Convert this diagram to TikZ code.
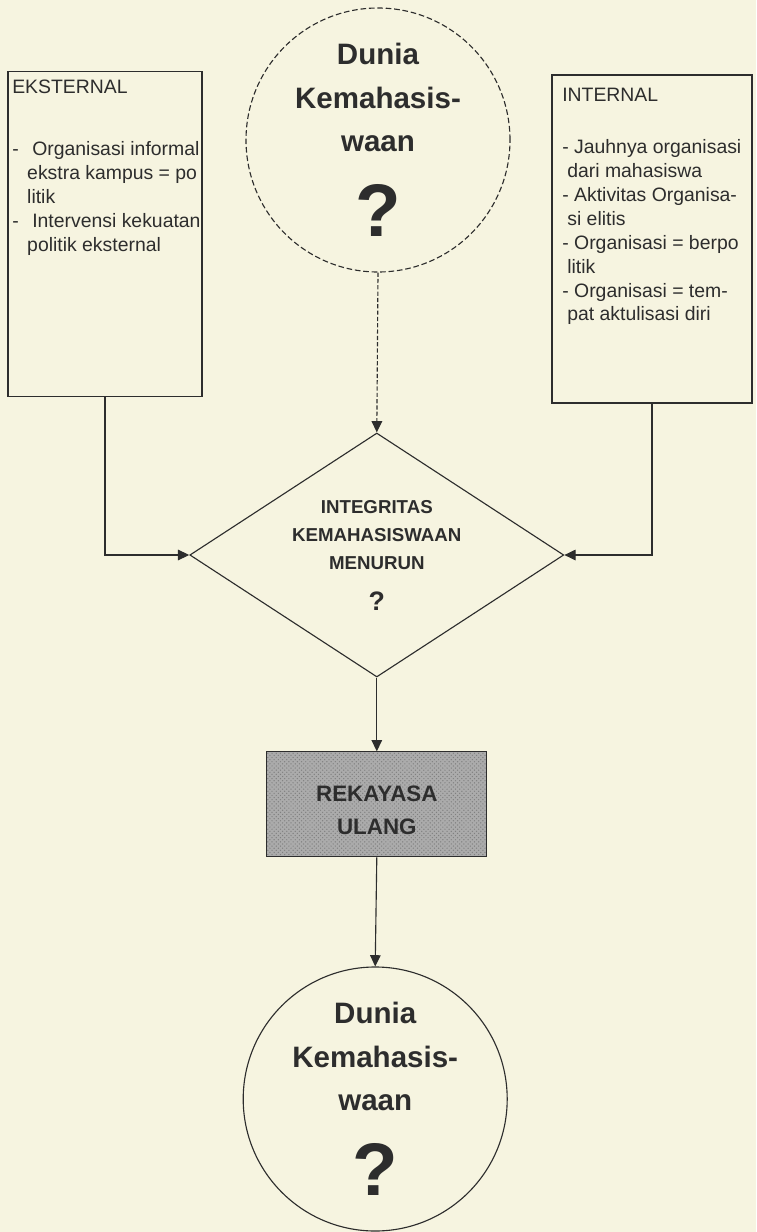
\documentclass[tikz,border=0pt]{standalone}
\usepackage{fontspec}
\setmainfont{Liberation Sans}
\usetikzlibrary{shapes.geometric,arrows.meta,patterns}
\definecolor{paper}{RGB}{246,244,224}
\definecolor{ink}{RGB}{45,45,45}
\tikzset{
  line/.style={draw=ink,line width=0.8pt},
  arr/.style={line,-{Triangle[length=8pt,width=7.5pt]}},
  listbox/.style={line,rectangle,inner sep=0pt},
  listtext/.style={anchor=north west,align=left,inner sep=0pt,text=ink,
    font=\fontsize{13.8}{17}\selectfont},
  world/.style={line,circle,minimum size=6.6cm,inner sep=0pt,align=center,text=ink,
    font=\fontsize{21}{31}\selectfont\bfseries}
}
\begin{document}
\begin{tikzpicture}
\useasboundingbox[fill=paper] (0,0) rectangle (18.9,-30.8);
% causes
\node[listbox,minimum width=4.85cm,minimum height=8.125cm] (ext) at (2.625,-5.84) {};
\node[listtext] (exttext) at (0.3,-2.0) {EKSTERNAL\\[27pt]
-\hspace{0.7em}Organisasi informal\\
\hspace*{0.77em}ekstra kampus = po\\
\hspace*{0.77em}litik\\
-\hspace{0.7em}Intervensi kekuatan\\
\hspace*{0.77em}politik eksternal};
\node[listbox,minimum width=5.0cm,minimum height=8.2cm] (int) at (16.3,-5.975) {};
\node[listtext] (inttext) at (14.05,-2.2) {INTERNAL\\[20pt]
-\hspace{0.28em}Jauhnya organisasi\\
\hspace*{0.26em}dari mahasiswa\\
-\hspace{0.28em}Aktivitas Organisa-\\
\hspace*{0.26em}si elitis\\
-\hspace{0.28em}Organisasi = berpo\\
\hspace*{0.26em}litik\\
-\hspace{0.28em}Organisasi = tem-\\
\hspace*{0.26em}pat aktulisasi diri};
% main flow
\node[world,dash pattern=on 4pt off 2pt] (top) at (9.45,-3.5)
  {Dunia\\Kemahasis-\\waan\\[22pt]{\fontsize{53}{53}\selectfont ?}};
\node[line,diamond,shape aspect=1.53,minimum width=9.35cm,minimum height=6.1cm,inner sep=0pt,
  align=center,text=ink,font=\fontsize{13.3}{20}\selectfont\bfseries] (dia) at (9.42,-13.875)
  {INTEGRITAS\\KEMAHASISWAAN\\MENURUN\\[9pt]{\fontsize{19}{20}\selectfont ?}};
\node[line,rectangle,minimum width=5.5cm,minimum height=2.625cm,
  preaction={fill=black!33},pattern=crosshatch dots,pattern color=black!50,
  align=center,text=ink,font=\fontsize{15.9}{23.5}\selectfont\bfseries] (rek) at (9.42,-20.11)
  {\rule{0pt}{20pt}REKAYASA\\ULANG};
\node[world] (bottom) at (9.38,-27.475)
  {Dunia\\Kemahasis-\\waan\\[22pt]{\fontsize{53}{53}\selectfont ?}};
% connectors
\draw[arr,dash pattern=on 3pt off 1.5pt] (top.south) -- (dia.north);
\draw[arr] (ext.south) |- (dia.west);
\draw[arr] (int.south) |- (dia.east);
\draw[arr] (dia.south) -- (rek.north);
\draw[arr] (rek.south) -- (bottom.north);
\end{tikzpicture}
\end{document}
